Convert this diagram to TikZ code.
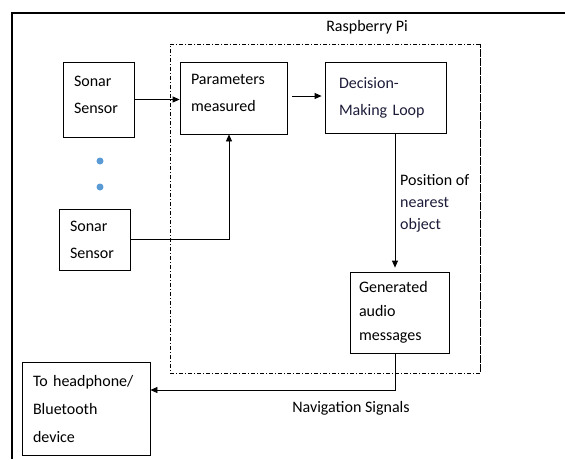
\documentclass[tikz,border=0pt]{standalone}
\usepackage{fontspec}
\setmainfont{Carlito}
\usetikzlibrary{arrows.meta}
\definecolor{dotblue}{RGB}{91,155,213}
\definecolor{navytext}{RGB}{28,28,58}

\begin{document}
\begin{tikzpicture}[
    x=1pt, y=-1pt,
    block/.style={draw, line width=0.8pt, align=left, inner xsep=11pt, inner ysep=0pt,
      font=\fontsize{16}{27}\selectfont},
    label/.style={inner sep=2pt, align=left, font=\fontsize{16}{22}\selectfont},
    flow/.style={line width=0.8pt, -{Triangle[length=7pt,width=6pt]}},
    region/.style={draw, line width=0.7pt, dash pattern=on 4pt off 2pt on 1pt off 2pt,
      minimum width=310pt, minimum height=329pt},
  ]
  \useasboundingbox (0,0) rectangle (565,459);
  \draw[line width=2.5pt] (565,13) -- (12,13) -- (12,459);

  \node[region] (pi) at (325,208.5) {};
  \draw[line width=1.6pt, dash pattern=on 4pt off 2pt on 1pt off 2pt] (pi.north east) -- (pi.south east);
  \node[label] (pilbl) at (367,27) {Raspberry Pi};

  \node[block, text width=49pt, minimum height=75pt, text depth=37pt] (s1) at (98.5,99.5) {Sonar\\Sensor};
  \node[block, text width=85pt, minimum height=72pt, text depth=37pt] (pm) at (233.5,98) {Parameters\\measured};
  \node[block, inner xsep=14pt, text width=93pt, minimum height=71pt, text=navytext] (dm) at (385.5,97.5) {Decision-\\Making Loop};
  \node[block, text width=49pt, minimum height=61pt] (s2) at (94.5,239.5) {Sonar\\Sensor};
  \node[block, inner xsep=9pt, text width=81pt, minimum height=81pt,
    font=\fontsize{16}{24}\selectfont] (gen) at (399.5,312.5) {Generated\\audio\\messages};
  \node[block, text width=106pt, minimum height=93pt,
    font=\fontsize{16}{28}\selectfont] (hp) at (86,408.5) {To headphone/\\Bluetooth\\device};

  \fill[dotblue] (100,161) circle (3.5pt);
  \fill[dotblue] (100,187) circle (3.5pt);

  \draw[flow] (s1.east) -- (s1.east -| pm.west);
  \draw[flow, shorten <=5pt, shorten >=3pt] ([yshift=2pt]pm.east) -- ([yshift=2pt]pm.east -| dm.west);
  \draw[flow] (s2.east) -| ([xshift=-4.5pt]pm.south);
  \draw[flow, shorten >=4pt] ([xshift=9.5pt]dm.south) -- ([xshift=9.5pt]dm.south |- gen.north);
  \node[label, anchor=west] (poslbl) at (398,203) {Position of\\\textcolor{navytext}{nearest}\\\textcolor{navytext}{object}};

  \coordinate (turn) at (395,390);
  \draw[flow] ([xshift=-4.5pt]gen.south) -- (turn) -- (turn -| hp.east);
  \node[label] (navlbl) at (351,408) {Navigation Signals};
\end{tikzpicture}
\end{document}
